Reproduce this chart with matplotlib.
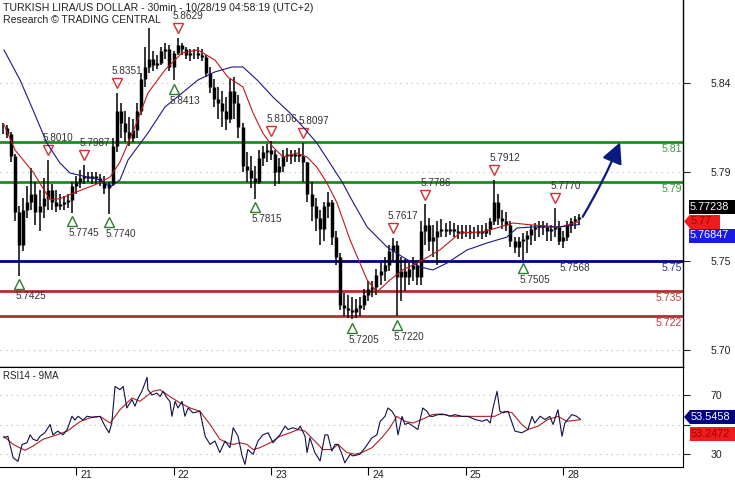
import matplotlib
matplotlib.use('Agg')
import numpy as np
import matplotlib.pyplot as plt
from matplotlib.patches import Rectangle, Polygon
from matplotlib.transforms import ScaledTranslation

plt.rcParams['font.family'] = ['Liberation Sans', 'DejaVu Sans']

# 30min-ish bars (one entry per bar)
highs = [5.820, 5.819, 5.815, 5.804, 5.778, 5.782, 5.788, 5.797, 5.790, 5.786,
         5.792, 5.801, 5.789, 5.786, 5.784, 5.783, 5.784, 5.790, 5.793, 5.796,
         5.7987, 5.795, 5.795, 5.795, 5.794, 5.793, 5.790, 5.812, 5.8351, 5.830,
         5.826, 5.823, 5.822, 5.830, 5.845, 5.858, 5.868, 5.856, 5.854, 5.858,
         5.860, 5.859, 5.856, 5.8629, 5.860, 5.858, 5.857, 5.857, 5.858, 5.857,
         5.854, 5.848, 5.842, 5.838, 5.836, 5.833, 5.842, 5.843, 5.834, 5.820,
         5.805, 5.803, 5.798, 5.806, 5.808, 5.809, 5.8106, 5.806, 5.802, 5.806,
         5.807, 5.806, 5.806, 5.807, 5.8097, 5.800, 5.790, 5.782, 5.776, 5.780,
         5.785, 5.781, 5.765, 5.754, 5.734, 5.733, 5.732, 5.731, 5.732, 5.736,
         5.740, 5.740, 5.746, 5.749, 5.752, 5.758, 5.7617, 5.760, 5.752, 5.751,
         5.749, 5.752, 5.750, 5.770, 5.7786, 5.772, 5.768, 5.770, 5.771, 5.769,
         5.770, 5.769, 5.768, 5.768, 5.768, 5.768, 5.767, 5.768, 5.768, 5.769,
         5.772, 5.7912, 5.784, 5.776, 5.775, 5.770, 5.762, 5.762, 5.764, 5.765,
         5.768, 5.769, 5.770, 5.770, 5.769, 5.768, 5.777, 5.770, 5.765, 5.770,
         5.772, 5.773, 5.774]
lows = [5.814, 5.812, 5.800, 5.770, 5.7425, 5.755, 5.772, 5.776, 5.768, 5.765,
        5.772, 5.776, 5.776, 5.775, 5.776, 5.776, 5.777, 5.7745, 5.784, 5.787,
        5.789, 5.790, 5.789, 5.789, 5.788, 5.784, 5.774, 5.788, 5.805, 5.812,
        5.810, 5.808, 5.810, 5.812, 5.824, 5.838, 5.845, 5.846, 5.847, 5.849,
        5.852, 5.846, 5.8413, 5.854, 5.854, 5.852, 5.851, 5.852, 5.852, 5.851,
        5.843, 5.835, 5.828, 5.822, 5.818, 5.816, 5.820, 5.822, 5.812, 5.795,
        5.790, 5.787, 5.7815, 5.789, 5.798, 5.800, 5.801, 5.788, 5.789, 5.795,
        5.800, 5.799, 5.800, 5.800, 5.790, 5.780, 5.770, 5.765, 5.758, 5.760,
        5.772, 5.758, 5.748, 5.725, 5.722, 5.721, 5.7205, 5.721, 5.722, 5.725,
        5.730, 5.732, 5.733, 5.738, 5.740, 5.745, 5.750, 5.7220, 5.730, 5.735,
        5.738, 5.740, 5.738, 5.738, 5.758, 5.755, 5.752, 5.748, 5.762, 5.762,
        5.763, 5.762, 5.761, 5.761, 5.762, 5.761, 5.761, 5.762, 5.761, 5.762,
        5.763, 5.768, 5.768, 5.766, 5.765, 5.757, 5.754, 5.752, 5.7505, 5.754,
        5.758, 5.760, 5.762, 5.763, 5.760, 5.760, 5.762, 5.758, 5.7568, 5.760,
        5.764, 5.766, 5.768]
closes = [5.817, 5.814, 5.803, 5.775, 5.758, 5.776, 5.780, 5.784, 5.775, 5.778,
          5.782, 5.786, 5.780, 5.778, 5.779, 5.780, 5.781, 5.788, 5.790, 5.792,
          5.793, 5.792, 5.793, 5.792, 5.790, 5.787, 5.789, 5.808, 5.826, 5.820,
          5.815, 5.812, 5.816, 5.826, 5.842, 5.848, 5.852, 5.849, 5.850, 5.856,
          5.857, 5.848, 5.855, 5.859, 5.857, 5.854, 5.855, 5.855, 5.854, 5.853,
          5.845, 5.838, 5.832, 5.830, 5.826, 5.822, 5.836, 5.830, 5.818, 5.798,
          5.796, 5.792, 5.790, 5.802, 5.805, 5.806, 5.804, 5.795, 5.798, 5.803,
          5.804, 5.803, 5.804, 5.803, 5.800, 5.784, 5.778, 5.772, 5.766, 5.778,
          5.780, 5.762, 5.752, 5.728, 5.726, 5.725, 5.724, 5.726, 5.728, 5.733,
          5.736, 5.737, 5.743, 5.745, 5.748, 5.755, 5.758, 5.742, 5.745, 5.742,
          5.746, 5.748, 5.742, 5.765, 5.768, 5.760, 5.762, 5.765, 5.766, 5.765,
          5.766, 5.765, 5.764, 5.765, 5.765, 5.764, 5.764, 5.765, 5.764, 5.766,
          5.770, 5.780, 5.772, 5.770, 5.768, 5.760, 5.757, 5.760, 5.761, 5.763,
          5.766, 5.767, 5.768, 5.767, 5.765, 5.766, 5.767, 5.760, 5.762, 5.768,
          5.770, 5.771, 5.77238]

# moving averages (bar index, value)
red_ma_idx = [0.25, 3, 7.4, 11.6, 14, 18.2, 23.2, 26.4, 28.8, 32.5, 35.7, 39.9, 44.1, 48,
              52.2, 55.4, 59.1, 61.6, 64, 66.5, 69, 72.4, 74.9, 77.3, 79.8, 82.3, 85.5,
              89.7, 92.1, 95.3, 98.5, 103.4, 107.6, 112.6, 118.2, 122.4, 125.6, 130.5,
              137.2, 142]
red_ma = [5.819, 5.806, 5.795, 5.781, 5.7815, 5.785, 5.789, 5.7925, 5.800, 5.8178, 5.8349,
          5.8466, 5.8552, 5.8567, 5.8516, 5.843, 5.838, 5.8248, 5.8147, 5.8076, 5.8026,
          5.8046, 5.8026, 5.7975, 5.7894, 5.7793, 5.7606, 5.7404, 5.7343, 5.7404, 5.7455,
          5.7505, 5.7556, 5.7642, 5.7647, 5.7672, 5.7692, 5.7682, 5.7672, 5.7700]
blue_ma_idx = [0.25, 4.2, 7.4, 10.8, 14, 16.5, 20.7, 23.9, 26.4, 28.8, 30.8, 35.7, 39.9,
               44.1, 48, 52.2, 56.4, 59.1, 62.6, 66.5, 70.7, 73.9, 77.3, 80.5, 83.7, 85.5,
               89.7, 94.6, 98.5, 102.7, 105.9, 109.4, 114.3, 119.2, 124.1, 126.6, 130.5,
               137.2, 142]
blue_ma = [5.8567, 5.8415, 5.8263, 5.8097, 5.7996, 5.7945, 5.7925, 5.791, 5.7874, 5.791,
           5.8011, 5.8147, 5.8279, 5.8349, 5.8415, 5.8456, 5.8481, 5.8481, 5.8415, 5.8329,
           5.8248, 5.8178, 5.8097, 5.7996, 5.7894, 5.7824, 5.7672, 5.7571, 5.752, 5.747,
           5.7455, 5.749, 5.7556, 5.7591, 5.7621, 5.7667, 5.7672, 5.7672, 5.76847]

# pivots
high_marks = [(11, 5.8010), (20, 5.7987), (28, 5.8351), (43, 5.8629), (66, 5.8106),
              (74, 5.8097), (96, 5.7617), (104, 5.7786), (121, 5.7912), (136, 5.7770)]
low_marks = [(4, 5.7425), (17, 5.7745), (26, 5.7740), (42, 5.8413), (62, 5.7815),
             (86, 5.7205), (97, 5.7220), (128, 5.7505)]
extra_low = (138, 5.7568)

levels = [5.81, 5.79, 5.75, 5.735, 5.722]
level_colors = ['#1e8c1e', '#1e8c1e', '#000080', '#b03030', '#b03030']
level_text = ['#3a9a3a', '#3a9a3a', '#333399', '#c03a3a', '#c03a3a']
target_idx = 152
target = 5.81

# RSI14 and its 9MA
rsi_idx = [0.2, 1.2, 2.5, 3.7, 4.7, 5.9, 6.7, 7.4, 8.4, 9.1, 10.3, 11.6, 12.3, 13.5, 14.8,
           15.8, 17, 17.7, 18.5, 19.7, 20.7, 21.9, 23.9, 25.1, 26.1, 26.8, 27.6, 28.8, 29.6,
           30.5, 31.8, 32.5, 33.3, 34.2, 35.5, 35.7, 36.7, 37.9, 38.7, 39.4, 40.4, 41.1,
           41.6, 42.4, 43.1, 44.1, 44.8, 45.6, 46.8, 48.5, 49.8, 51, 52.2, 53.4, 54.7, 55.9,
           56.7, 57.9, 58.9, 59.6, 60.3, 61.6, 62.8, 64, 65.3, 66.5, 68.2, 69.5, 70.2, 71.4,
           72.7, 73.2, 74.4, 74.9, 75.6, 76.8, 78.1, 79.3, 80, 81, 81.8, 82.5, 83.5, 84.2,
           85.5, 86.2, 87.9, 89.2, 90.9, 92.1, 92.9, 94.1, 94.8, 95.8, 96.6, 97.3, 98.3, 99,
           99.8, 101, 102.2, 103.4, 104.4, 105.2, 105.9, 107.1, 108.9, 110.1, 111.3, 113.1,
           114.5, 116.3, 118, 119.2, 120, 120.7, 121.7, 122.4, 123.2, 124.4, 126.1, 127.8,
           129.3, 130.3, 131, 132.3, 133.5, 134.7, 135.5, 136.7, 137.7, 138.4, 140.1, 141.3,
           142.2]
rsi = [41, 42, 27.5, 25, 36.5, 37.6, 43, 40, 39, 42, 44.4, 50, 43, 45.5, 43,
       46.6, 55.6, 53, 55.6, 53, 55.6, 55, 55.5, 49, 44.4, 51, 75.8, 73.6, 75.8,
       61.2, 66.9, 62.4, 68, 72.5, 82, 73.6, 70, 71.3, 69, 72.5, 68, 65.7,
       55.6, 65.7, 61.2, 65.7, 55.6, 61.2, 57.9, 59, 42, 36.5, 38.8, 31, 38.8, 34.3,
       47.8, 42, 28.7, 23, 33, 29.8, 38.8, 43, 44.4, 37.6, 43, 48.9, 46.6, 47.8,
       46.6, 48.9, 42, 31, 41, 31, 25.3, 43, 43, 32, 36.5, 36.5, 29.8, 24,
       29.8, 28.7, 29.8, 34.3, 41, 43, 52, 55.6, 61.2, 59, 55.5, 43, 55.5, 50,
       51, 48.9, 46.6, 61.2, 59, 55.6, 55.5, 56.7, 56.7, 55.6, 56.7, 55.5,
       55.5, 53.4, 52.2, 53.4, 51, 61.2, 72.5, 59, 57.9, 59, 45.5, 44.4,
       46.6, 55.5, 51, 55.6, 53.4, 55.5, 50, 60, 42, 51, 56.7, 55.6,
       53.5458]
rsi_ma_idx = [0.2, 2.5, 5.4, 7.4, 9.9, 13.3, 15.8, 19, 21.4, 23.9, 26.4, 28.8, 31.8, 33.7,
              36.9, 38.7, 41.1, 43.6, 46.1, 48.5, 51, 53.4, 55.2, 56.7, 58.4, 60.1, 61.6,
              63.3, 65.8, 68.2, 70.7, 72.7, 74.4, 76.8, 78.8, 81, 82.5, 84.7, 86.7, 88.4,
              90.9, 93.3, 95.3, 97, 99, 101, 103.2, 105.7, 108.1, 110.6, 113.1, 116.3,
              118.7, 121.2, 123.6, 125.4, 127.8, 129.3, 131.8, 134.2, 136.7, 138.9, 142.2]
rsi_ma = [42, 36.5, 32.5, 35.4, 40, 43, 45.5, 52, 54.5, 55.5, 51, 60, 68, 65.7,
          72.5, 73.6, 69, 64.6, 61.2, 59, 50, 40, 37.6, 36.5, 37.6, 36.5, 33,
          34.3, 37.6, 42, 44.4, 46.6, 45.5, 38.8, 33, 33, 36.5, 31, 29.8, 31,
          34.3, 41, 47.8, 55.5, 52.2, 51, 53.4, 56.7, 57.2, 55.6, 55.5, 55.5,
          55.5, 55.6, 59, 57.9, 50, 46.6, 48.9, 53.4, 55.5, 52.2, 53.2472]

day_idx = [18, 42, 66, 90, 114, 138]
day_labels = ['21', '22', '23', '24', '25', '28']

W, H = 735, 480
fig = plt.figure(figsize=(W / 100, H / 100), dpi=100)
ax = fig.add_axes([0, 1 - 367 / H, 683 / W, 367 / H])
rax = fig.add_axes([0, 1 - 467 / H, 683 / W, 100 / H])

dot = (0, (1, 4))
x = np.arange(len(closes))
opens = np.r_[closes[0], closes[:-1]]

# ---- main price panel
for yv in [5.84, 5.795, 5.75, 5.705]:
    ax.axhline(yv, color='#b5b5b5', lw=0.8, ls=dot, zorder=0)
for lv, c in zip(levels, level_colors):
    ax.axhline(lv, color=c, lw=2, zorder=1)
for lv, c in zip(levels, level_text):
    ax.annotate(f'{lv:g}', (1, lv), xycoords=('axes fraction', 'data'),
                xytext=(-1, -1.5), textcoords='offset points', ha='right', va='top',
                color=c, fontsize=7.6)

ax.vlines(x, lows, highs, color='black', lw=1.1, zorder=3)
ax.vlines(x, np.minimum(opens, closes), np.maximum(opens, closes), color='black',
          lw=2.5, zorder=3)
ax.plot(red_ma_idx, red_ma, color='#c01818', lw=0.8, zorder=4)
ax.plot(blue_ma_idx, blue_ma, color='#1a1a80', lw=0.8, zorder=4)

up = ax.transData + ScaledTranslation(0, 7 / 72, fig.dpi_scale_trans)
down = ax.transData + ScaledTranslation(0, -6 / 72, fig.dpi_scale_trans)
for i, v in high_marks:
    ax.plot(i, v, marker='v', ms=7.5, mfc='none', mec='#d03030', mew=1, transform=up)
    ax.annotate(f'{v:.4f}', (i, v), xytext=(-3.5, 12), textcoords='offset points',
                ha='left', va='bottom', fontsize=7.2, color='#333333')
for i, v in low_marks:
    ax.plot(i, v, marker='^', ms=7.5, mfc='none', mec='#2a7d2a', mew=1, transform=down)
    ax.annotate(f'{v:.4f}', (i, v), xytext=(-2.5, -11), textcoords='offset points',
                ha='left', va='top', fontsize=7.2, color='#333333')
ax.annotate(f'{extra_low[1]:.4f}', extra_low, xytext=(-2.5, -11), textcoords='offset points',
            ha='left', va='top', fontsize=7.2, color='#333333')

ax.annotate('', xy=(target_idx, target), xytext=(len(closes) - 0.2, closes[-1]),
            arrowprops=dict(arrowstyle='-|>,head_length=0.9,head_width=0.45',
                            color='#0a1a80', lw=1.6, mutation_scale=14,
                            connectionstyle='arc3,rad=0.035', shrinkA=0, shrinkB=0))

ax.set_xlim(-0.74, 167.5)
ax.set_ylim(5.69642, 5.88196)
ax.yaxis.tick_right()
ax.set_yticks([5.84, 5.795, 5.75, 5.705])
ax.set_yticklabels(['5.84', '5.79', '5.75', '5.70'])
ax.tick_params(axis='y', length=5, width=0.8, pad=15, labelsize=7.6, colors='#222222')
ax.set_xticks([])
for s in ['left', 'top']:
    ax.spines[s].set_visible(False)
for s in ['right', 'bottom']:
    ax.spines[s].set_linewidth(1)

# ---- RSI panel
for yv in [70, 50, 30]:
    rax.axhline(yv, color='#b5b5b5', lw=0.8, ls=dot, zorder=0)
rax.plot(rsi_ma_idx, rsi_ma, color='#b02020', lw=0.8)
rax.plot(rsi_idx, rsi, color='#10104a', lw=0.8)
rax.set_xlim(-0.74, 167.5)
rax.set_ylim(21.19, 88.98)
rax.yaxis.tick_right()
rax.set_yticks([70, 50, 30])
rax.set_yticklabels(['70', '', '30'])
rax.tick_params(axis='y', length=5, width=0.8, pad=15, labelsize=7.6, colors='#222222')
rax.set_xticks(day_idx)
rax.set_xticklabels([])
rax.tick_params(axis='x', length=6, width=0.8, direction='out')
rax.spines['left'].set_visible(False)
for d, lab in zip(day_idx, day_labels):
    rax.annotate(lab, (d, 0), xycoords=('data', 'axes fraction'), xytext=(3, -2),
                 textcoords='offset points', ha='left', va='top', fontsize=7.6,
                 color='#222222')
rax.text(0.004, 0.91, 'RSI14 - 9MA', transform=rax.transAxes, fontsize=7, va='center',
         color='#222222')

# ---- titles
fig.text(3 / W, 1 - 8 / H, 'TURKISH LIRA/US DOLLAR - 30min - 10/28/19 04:58:19 (UTC+2)',
         fontsize=7.6, va='center', color='#222222')
fig.text(3 / W, 1 - 20 / H, 'Research \u00a9 TRADING CENTRAL', fontsize=7.6, va='center',
         color='#222222')


# ---- last value tags on the right
def tag(yc, text, fc, tc, x0=690, x1=735, pointer=False):
    fig.add_artist(Rectangle((x0 / W, 1 - (yc + 7) / H), (x1 - x0) / W, 14 / H,
                             transform=fig.transFigure, fc=fc, ec='none'))
    if pointer:
        fig.add_artist(Polygon([(684 / W, 1 - yc / H), (x0 / W, 1 - (yc - 7) / H),
                                (x0 / W, 1 - (yc + 7) / H)], closed=True,
                               transform=fig.transFigure, fc=fc, ec='none'))
    fig.text((x0 + 1) / W, 1 - yc / H, text, color=tc, fontsize=7.8, va='center',
             ha='left')


tag(206.5, f'{closes[-1]:.5f}', '#000000', 'white', x0=689)
tag(221.5, f'{red_ma[-1]:.2f}', '#ee1c1c', '#a00000', x0=690, x1=720, pointer=True)
tag(235.5, f'{blue_ma[-1]:.5f}', '#1a1ae6', 'white', x0=689)
tag(417, f'{rsi[-1]:.4f}', '#000080', 'white', x0=690, pointer=True)
tag(434, f'{rsi_ma[-1]:.4f}', '#ee1c1c', '#a00000', x0=690)

fig.savefig('out.png', dpi=100)
